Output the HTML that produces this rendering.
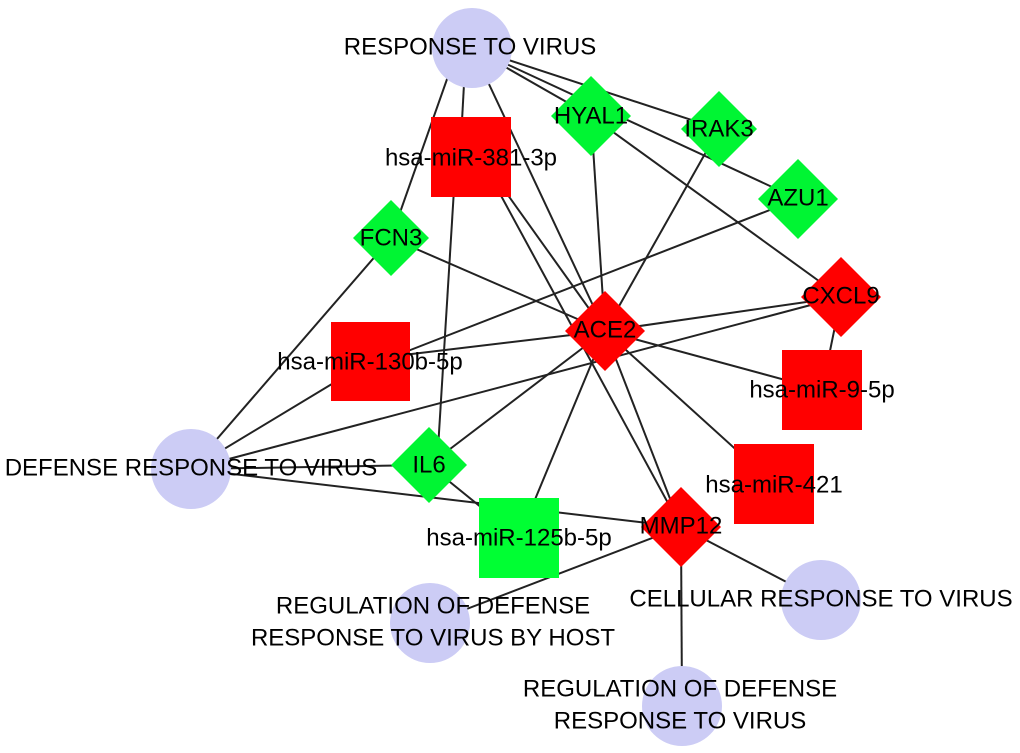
<!DOCTYPE html><html><head><style>body{margin:0;background:#fff}svg{display:block}text{font-family:"Liberation Sans",Arial,sans-serif;font-size:24px;fill:#000;text-anchor:middle;dominant-baseline:central}</style></head><body>
<svg width="1020" height="753" viewBox="0 0 1020 753">
<g stroke="#222" stroke-width="2">
<line x1="472" y1="48" x2="591" y2="116"/><line x1="472" y1="48" x2="719" y2="129"/><line x1="472" y1="48" x2="798" y2="199"/>
<line x1="458" y1="48" x2="391" y2="238"/><line x1="466" y1="48" x2="460" y2="157"/><line x1="472" y1="48" x2="605" y2="331"/>
<line x1="456" y1="157" x2="437" y2="465"/><line x1="480" y1="157" x2="681" y2="527"/><line x1="490" y1="170" x2="605" y2="331"/>
<line x1="591" y1="116" x2="605" y2="331"/><line x1="591" y1="116" x2="841" y2="297"/><line x1="719" y1="129" x2="605" y2="331"/>
<line x1="798" y1="199" x2="395" y2="356"/><line x1="391" y1="238" x2="605" y2="331"/><line x1="391" y1="238" x2="191" y2="469"/>
<line x1="841" y1="297" x2="605" y2="331"/><line x1="841" y1="297" x2="822" y2="390"/><line x1="841" y1="297" x2="191" y2="469"/>
<line x1="605" y1="331" x2="822" y2="390"/><line x1="605" y1="331" x2="774" y2="484"/><line x1="605" y1="331" x2="681" y2="527"/>
<line x1="605" y1="331" x2="519" y2="538"/><line x1="605" y1="331" x2="429" y2="465"/><line x1="605" y1="331" x2="395" y2="356"/>
<line x1="370" y1="361" x2="191" y2="469"/><line x1="191" y1="469" x2="429" y2="465"/><line x1="191" y1="469" x2="681" y2="527"/>
<line x1="429" y1="465" x2="519" y2="538"/><line x1="681" y1="527" x2="430" y2="623"/><line x1="681" y1="527" x2="821" y2="600"/><line x1="681" y1="527" x2="682" y2="706"/>
</g>
<g fill="#ccccf5"><circle cx="472" cy="48" r="40"/><circle cx="191" cy="469" r="40"/><circle cx="430" cy="623" r="40"/><circle cx="821" cy="600" r="40"/><circle cx="682" cy="706" r="40"/></g>
<g fill="#ff0000"><rect x="431" y="117" width="80" height="80"/><rect x="331" y="322" width="79" height="79"/><rect x="782" y="350" width="80" height="80"/><rect x="734" y="444" width="80" height="80"/></g>
<rect x="479" y="498" width="80" height="80" fill="#00ff33"/>
<g fill="#00f533"><polygon points="591,76 631,116 591,156 551,116"/><polygon points="719,91 757,129 719,167 681,129"/><polygon points="798,159 838,199 798,239 758,199"/><polygon points="391,200 429,238 391,276 353,238"/><polygon points="429,427 467,465 429,503 391,465"/></g>
<g fill="#ff0000"><polygon points="841,257 881,297 841,337 801,297"/><polygon points="605,291 645,331 605,371 565,331"/><polygon points="681,487 721,527 681,567 641,527"/></g>
<text x="470" y="47">RESPONSE TO VIRUS</text>
<text x="591" y="116">HYAL1</text><text x="719" y="129">IRAK3</text><text x="798" y="198">AZU1</text>
<text x="471" y="158">hsa-miR-381-3p</text><text x="391" y="238">FCN3</text><text x="841" y="296">CXCL9</text>
<text x="605" y="330">ACE2</text><text x="370" y="362">hsa-miR-130b-5p</text><text x="822" y="390">hsa-miR-9-5p</text>
<text x="191" y="468">DEFENSE RESPONSE TO VIRUS</text><text x="429" y="465">IL6</text><text x="774" y="485">hsa-miR-421</text>
<text x="519" y="538">hsa-miR-125b-5p</text><text x="681" y="526">MMP12</text>
<text x="433" y="606">REGULATION OF DEFENSE</text><text x="433" y="638">RESPONSE TO VIRUS BY HOST</text>
<text x="821" y="599">CELLULAR RESPONSE TO VIRUS</text>
<text x="680" y="689">REGULATION OF DEFENSE</text><text x="680" y="721">RESPONSE TO VIRUS</text>
</svg></body></html>
